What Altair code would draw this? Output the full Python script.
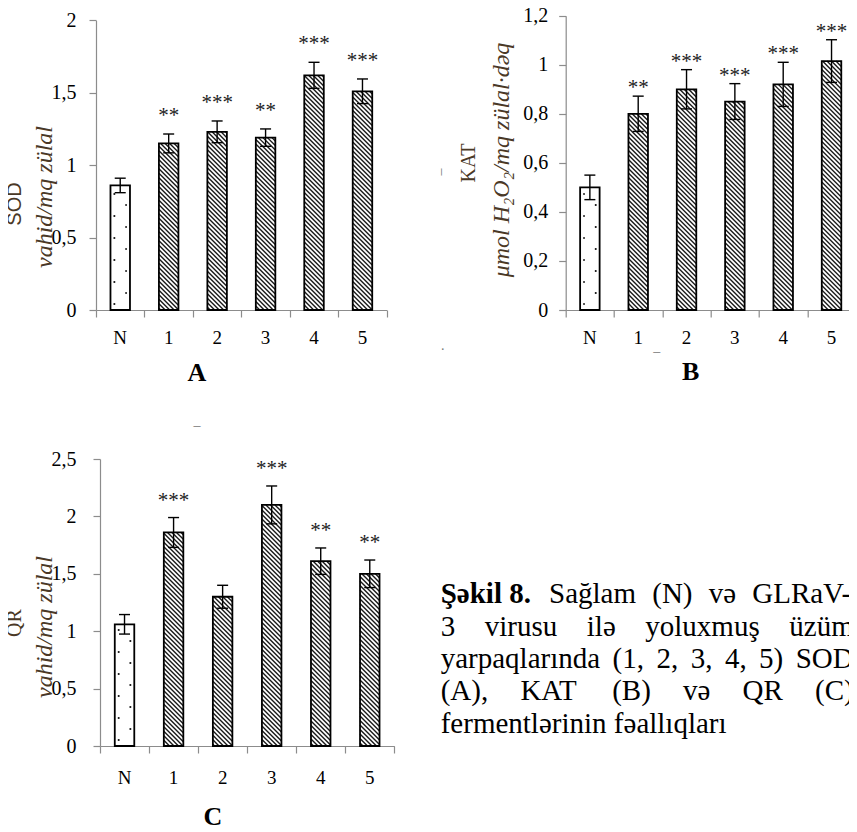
import altair as alt
import numpy as np
import pandas as pd

# ---------------- data ----------------
groups = ["N", "1", "2", "3", "4", "5"]

sod_mean = [0.86, 1.15, 1.23, 1.19, 1.62, 1.51]
sod_err = [0.05, 0.065, 0.075, 0.06, 0.09, 0.085]
sod_sig = ["", "**", "***", "**", "***", "***"]
sod_ticks = [0, 0.5, 1, 1.5, 2]

kat_mean = [0.50, 0.80, 0.90, 0.85, 0.92, 1.015]
kat_err = [0.05, 0.072, 0.08, 0.073, 0.09, 0.087]
kat_sig = ["", "**", "***", "***", "***", "***"]
kat_ticks = [0, 0.2, 0.4, 0.6, 0.8, 1.0, 1.2]

qr_mean = [1.06, 1.86, 1.30, 2.10, 1.61, 1.50]
qr_err = [0.085, 0.13, 0.10, 0.165, 0.115, 0.12]
qr_sig = ["", "***", "", "***", "**", "**"]
qr_ticks = [0, 0.5, 1, 1.5, 2, 2.5]

caption_lines = [
    [("Şəkil 8.", "bold"), ("Sağlam", "normal"), ("(N)", "normal"), ("və", "normal"),
     ("GLRaV-", "normal")],
    [("3", "normal"), ("virusu", "normal"), ("ilə", "normal"), ("yoluxmuş", "normal"),
     ("üzüm", "normal")],
    [("yarpaqlarında", "normal"), ("(1,", "normal"), ("2,", "normal"), ("3,", "normal"),
     ("4,", "normal"), ("5)", "normal"), ("SOD", "normal")],
    [("(A),", "normal"), ("KAT", "normal"), ("(B)", "normal"), ("və", "normal"),
     ("QR", "normal"), ("(C)", "normal")],
    [("fermentlərinin", "normal"), ("fəallıqları", "normal")],
]

# ---------------- layout / style ----------------
SERIF = "Liberation Serif"
SANS = "Liberation Sans"
TITLE_COLOR = "#4a3826"
AXIS_COLOR = "#8c8c8c"

# approximate Times advance widths (1/1000 em) used to justify the caption
TW = {" ": 250, "(": 333, ")": 333, ",": 250, ".": 250, "-": 333, "A": 722, "B": 667,
      "C": 667, "D": 722, "G": 722, "K": 722, "L": 611, "N": 722, "O": 722, "Q": 722,
      "R": 667, "S": 556, "Ş": 556, "T": 611, "V": 722, "a": 444, "d": 500, "e": 444,
      "f": 333, "g": 500, "ğ": 500, "i": 278, "ı": 278, "k": 500, "l": 278, "m": 778,
      "n": 500, "o": 500, "p": 500, "q": 500, "r": 333, "s": 389, "ş": 389, "t": 278,
      "u": 500, "ü": 500, "v": 500, "x": 500, "y": 500, "z": 444, "ə": 444}


def text_w(s, size, bold=False):
    w = sum(TW.get(ch, 500) for ch in s) / 1000.0 * size
    return w * (1.04 if bold else 1.0)


CAP_SIZE = 29
CAP_LEFT = 440
CAP_RIGHT = 853
caption_base = [603, 636, 668, 700, 733]

A_LEFT, ROW1_TOP = 96, 15        # page position of panel A's axis / first row top
B_LEFT = 565
ROW2_TOP = 459


def marks_text(items, color="#777777", size=14):
    """small stray dash glyphs of the scanned page: (text, x, y, angle)"""
    out = []
    for t, x, y, ang in items:
        out.append(alt.Chart(pd.DataFrame({"t": [t]})).mark_text(
            font=SERIF, fontSize=size, color=color, angle=ang, baseline="middle",
            align="center").encode(x=alt.value(x), y=alt.value(y), text="t:N"))
    return out


def panel(mean, err, sig, ticks, ymax, plot_w, plot_h, view_w, view_h,
          x_off, axis_off, label_pad, star_off, xlab_dy,
          t_main, t_main_font, t_main_xy, t_ital, t_ital_xy, letter, letter_xy,
          anchor=False, strays=()):
    kx = plot_w / 6.0
    ky = plot_h / ymax
    bar_px = 19.5
    bw = bar_px / kx

    xs = alt.Scale(domain=[-0.5, 5.5], range=[x_off, x_off + plot_w], nice=False, zero=False)
    ys = alt.Scale(domain=[0, ymax], range=[view_h, view_h - plot_h], nice=False, zero=True)
    xaxis = alt.Axis(values=[-0.5 + k for k in range(7)], labels=False, tickSize=7,
                     tickColor=AXIS_COLOR, domainColor=AXIS_COLOR, tickWidth=1.2,
                     domainWidth=1.2, grid=False, title=None)
    yaxis = alt.Axis(values=ticks, labelExpr="replace(toString(datum.value), '.', ',')",
                     tickSize=7, tickColor=AXIS_COLOR, domainColor=AXIS_COLOR,
                     tickWidth=1.2, domainWidth=1.2, labelFont=SERIF, labelFontSize=20,
                     labelColor="black", labelPadding=label_pad, grid=False, title=None,
                     offset=axis_off)

    def X(f):
        return alt.X(f, scale=xs, axis=xaxis)

    def Y(f):
        return alt.Y(f, scale=ys, axis=yaxis)

    idx = np.arange(len(groups))
    bars = pd.DataFrame({"idx": idx, "g": groups, "mean": mean, "err": err, "sig": sig})
    bars["x1"] = bars["idx"] - bw / 2
    bars["x2"] = bars["idx"] + bw / 2
    bars["lo"] = bars["mean"] - bars["err"]
    bars["hi"] = bars["mean"] + bars["err"]
    cap = 5.5 / kx
    bars["c1"] = bars["idx"] - cap
    bars["c2"] = bars["idx"] + cap

    # diagonal hatch ("\\") for infected groups, derived from the bar geometry
    period = 4.5
    segs = []
    for i in range(1, len(groups)):
        ul = (i - bw / 2) * kx
        ur = (i + bw / 2) * kx
        vt = mean[i] * ky
        k0 = int(np.ceil(ul / period))
        k1 = int(np.floor((ur + vt) / period))
        for k in range(k0, k1 + 1):
            c = k * period
            ua = max(ul, c - vt)
            ub = min(ur, c)
            if ub - ua > 0.3:
                segs.append({"xa": ua / kx, "ya": (c - ua) / ky,
                             "xb": ub / kx, "yb": (c - ub) / ky})
    segs = pd.DataFrame(segs)

    # dotted fill for the healthy control
    dots = []
    vt0 = mean[0] * ky
    v = 6.0
    j = 0
    while v < vt0 - 3:
        frac = 0.2 if j % 2 == 0 else 0.8
        u = (0 - bw / 2) * kx + frac * bar_px
        dots.append({"x": u / kx, "y": v / ky})
        v += 11.0
        j += 1
    dots = pd.DataFrame(dots)

    base = alt.Chart(bars)
    fill = base.mark_rect(fill="white").encode(x=X("x1:Q"), x2="x2:Q", y=Y("mean:Q"), y2=alt.datum(0))
    hatch = alt.Chart(segs).mark_rule(color="#1a1a1a", strokeWidth=1.4).encode(
        x=X("xa:Q"), x2="xb:Q", y=Y("ya:Q"), y2="yb:Q")
    dot = alt.Chart(dots).mark_square(size=3, color="black", opacity=1).encode(x=X("x:Q"), y=Y("y:Q"))
    outline = base.mark_rect(fillOpacity=0, stroke="black", strokeWidth=1.8).encode(
        x=X("x1:Q"), x2="x2:Q", y=Y("mean:Q"), y2=alt.datum(0))
    ebar = base.mark_rule(color="black", strokeWidth=1.4).encode(x=X("idx:Q"), y=Y("lo:Q"), y2="hi:Q")
    cap_t = base.mark_rule(color="black", strokeWidth=1.4).encode(x=X("c1:Q"), x2="c2:Q", y=Y("hi:Q"))
    cap_b = base.mark_rule(color="black", strokeWidth=1.4).encode(x=X("c1:Q"), x2="c2:Q", y=Y("lo:Q"))
    stars = base.mark_text(font=SERIF, fontSize=21, baseline="middle", dy=-star_off, color="#222").encode(
        x=X("idx:Q"), y=Y("hi:Q"), text="sig:N")
    xlab = base.mark_text(font=SERIF, fontSize=19, baseline="middle", color="black").encode(
        x=X("idx:Q"), y=alt.value(view_h + xlab_dy), text="g:N")

    one = pd.DataFrame({"t": [t_main]})
    title1 = alt.Chart(one).mark_text(angle=270, font=t_main_font, fontSize=20, color=TITLE_COLOR,
                                      align="center", baseline="middle").encode(
        x=alt.value(t_main_xy[0]), y=alt.value(t_main_xy[1]), text="t:N")
    two = pd.DataFrame({"t": [t_ital]})
    title2 = alt.Chart(two).mark_text(angle=270, font=SERIF, fontStyle="italic", fontSize=24,
                                      color=TITLE_COLOR, align="center", baseline="middle").encode(
        x=alt.value(t_ital_xy[0]), y=alt.value(t_ital_xy[1]), text="t:N")
    three = pd.DataFrame({"t": [letter]})
    let = alt.Chart(three).mark_text(font=SERIF, fontSize=26, fontWeight="bold", color="black",
                                     align="center", baseline="middle").encode(
        x=alt.value(letter_xy[0]), y=alt.value(letter_xy[1]), text="t:N")

    layers = [fill, hatch, dot, outline, ebar, cap_t, cap_b, stars, xlab, title1, title2, let]
    layers += marks_text(strays)
    if anchor:
        # invisible corner that fixes the chart's top-left origin
        anc = alt.Chart(pd.DataFrame({"a": [0]})).mark_rule(opacity=0, strokeWidth=1).encode(
            x=alt.value(-99.5), x2=alt.value(-98.5), y=alt.value(-29.5))
        layers.append(anc)
    return alt.layer(*layers).properties(width=view_w, height=view_h)


H1 = 295
COL1_W = 298.3
chartA = panel(sod_mean, sod_err, sod_sig, sod_ticks, 2.0, 290.7, 289.7, COL1_W, H1,
               0, 0, 13, 18, 28,
               "SOD", SANS, (-81, 189), "vahid/mq zülal", (-51, 182), "A", (101, 358),
               anchor=True)
chartB = panel(kat_mean, kat_err, kat_sig, kat_ticks, 1.2, 290.0, 294.3, 290.0, H1,
               0, 0, 11, 8, 28,
               "KAT", SERIF, (-97, 148), "μmol H₂O₂/mq zülal·dəq", (-64, 145), "B", (125, 357),
               strays=[("–", -125, 157, 270), ("–", 91, 337, 0), (".", -123, 331, 0)])
H2 = 287
chartC = panel(qr_mean, qr_err, qr_sig, qr_ticks, 2.5, 294.3, 287.0, COL1_W, H2,
               4, -4, 17, 17, 32,
               "QR", SERIF, (-81, 164), "vahid/mq zülal", (-51, 168), "C", (117, 358),
               strays=[("–", 101, -33, 0)])

# caption block (justified lines, last line natural spacing); lives in column 2 of row 2
T_w = 290.0
T_h = H2
rows = []
for li, words in enumerate(caption_lines):
    widths = [text_w(w, CAP_SIZE, wt == "bold") for w, wt in words]
    if li < len(caption_lines) - 1 and len(words) > 1:
        gap = (CAP_RIGHT - CAP_LEFT - sum(widths)) / (len(words) - 1)
    else:
        gap = 0.25 * CAP_SIZE
    xp = CAP_LEFT
    for (w, wt), ww in zip(words, widths):
        rows.append({"x": xp - B_LEFT, "y": caption_base[li] - ROW2_TOP, "t": w, "w": wt})
        xp += ww + gap
cap_df = pd.DataFrame(rows)
cx = alt.X("x:Q", scale=alt.Scale(domain=[0, T_w], range=[0, T_w]), axis=None)
cy = alt.Y("y:Q", scale=alt.Scale(domain=[0, T_h], range=[0, T_h]), axis=None)
cap_norm = alt.Chart(cap_df[cap_df["w"] == "normal"]).mark_text(
    align="left", baseline="alphabetic", font=SERIF, fontSize=CAP_SIZE, color="black"
).encode(x=cx, y=cy, text="t:N")
cap_bold = alt.Chart(cap_df[cap_df["w"] == "bold"]).mark_text(
    align="left", baseline="alphabetic", font=SERIF, fontSize=CAP_SIZE, fontWeight="bold",
    color="black"
).encode(x=cx, y=cy, text="t:N")
caption = alt.layer(cap_norm, cap_bold).properties(width=T_w, height=T_h)

anchor_page_x = A_LEFT - 100
anchor_page_y = ROW1_TOP - 30
chart = alt.concat(chartA, chartB, chartC, caption, columns=2, align="each",
                   bounds="flush",
                   spacing={"row": ROW2_TOP - ROW1_TOP - H1, "column": B_LEFT - A_LEFT - COL1_W}
                   ).properties(
    padding={"left": anchor_page_x - 8, "top": anchor_page_y - 8, "right": -8, "bottom": 0},
    background="white"
).configure_view(stroke=None)

chart.save("out.html", embed_options={"renderer": "svg", "actions": False})
